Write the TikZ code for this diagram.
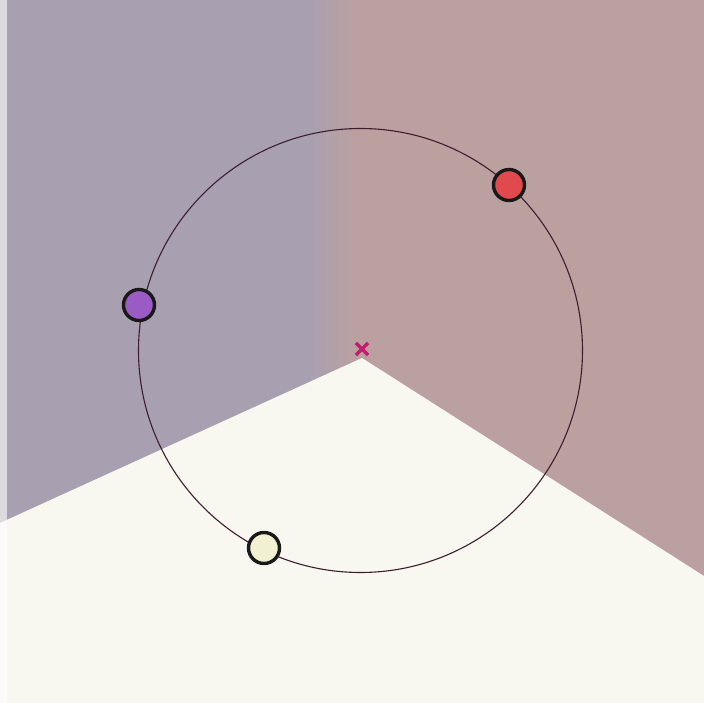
\documentclass[tikz,border=0pt]{standalone}
\usetikzlibrary{shapes.misc}
\definecolor{leftbg}{HTML}{A8A0B0}
\definecolor{rightbg}{HTML}{BBA0A0}
\definecolor{lowbg}{HTML}{F8F7F0}
\definecolor{orbitcol}{HTML}{3C1E2E}
\definecolor{reddot}{HTML}{E04A4E}
\definecolor{purpledot}{HTML}{9A5CC4}
\definecolor{paledot}{HTML}{F2F0D2}
\definecolor{markcol}{HTML}{C21C6E}
\tikzset{
  body/.style={circle, draw=black!90, line width=3.4pt, minimum size=31pt, inner sep=0pt},
  orbitring/.style={circle, draw=orbitcol, line width=1.1pt, minimum size=444pt, inner sep=0pt},
  centermark/.style={cross out, draw=markcol, line width=3.2pt, minimum size=9pt, inner sep=0pt}
}
\begin{document}
\begin{tikzpicture}[x=1pt,y=-1pt]
\useasboundingbox (0,0) rectangle (704,703);
% background regions
\fill[leftbg] (0,0) rectangle (310,703);
\fill[rightbg] (355,0) rectangle (704,703);
\shade[left color=leftbg, right color=rightbg] (309.5,0) rectangle (355.5,703);
\fill[lowbg] (362,358) -- (704,576) -- (704,703) -- (0,703) -- (0,523) -- cycle;
\fill[white, opacity=0.6] (0,0) rectangle (7,703);
% orbit and bodies
\node[orbitring] (orbit) at (360.5,350.5) {};
\node[centermark] (center) at (362,349) {};
\node[body, fill=reddot] (red) at (509,185) {};
\node[body, fill=purpledot] (purple) at (139,305) {};
\node[body, fill=paledot] (pale) at (264,548) {};
\end{tikzpicture}
\end{document}
